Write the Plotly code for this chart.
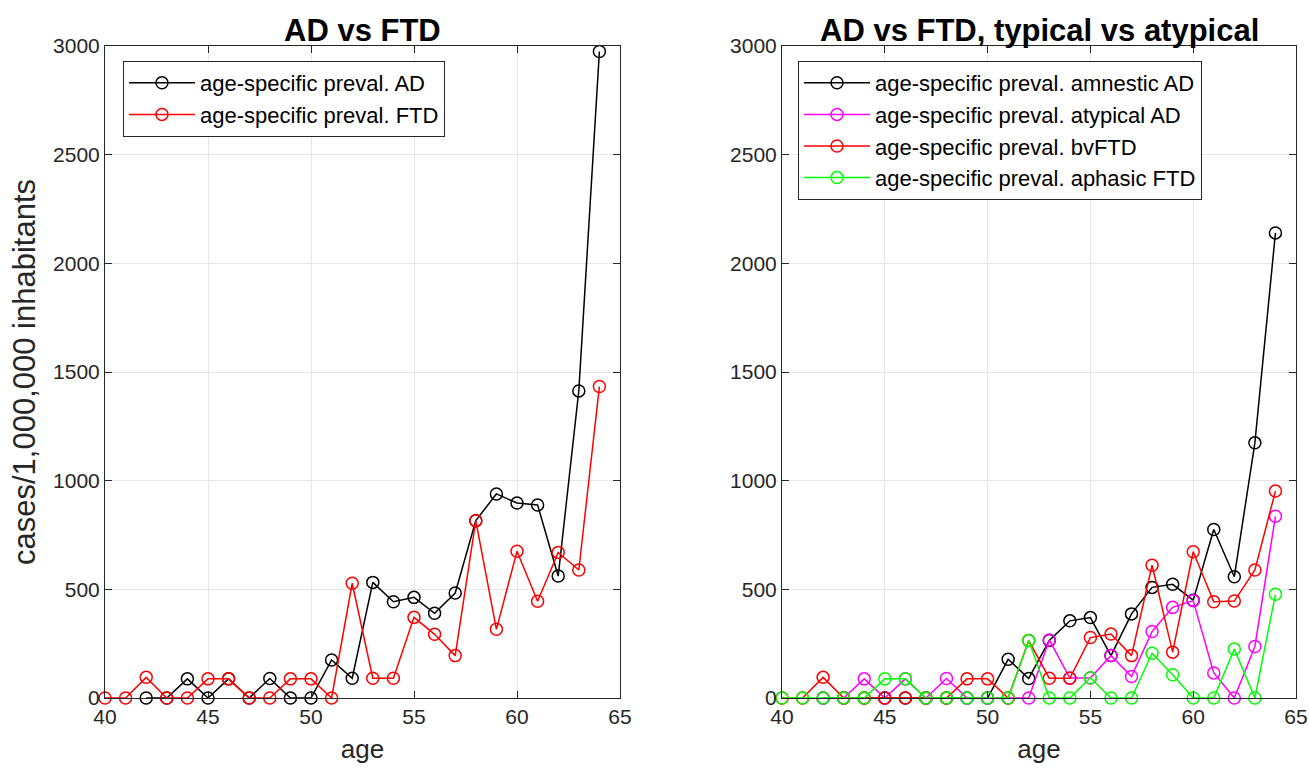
import plotly.graph_objects as go

# ---------------- data ----------------
ages_ad = list(range(42, 65))
ages_all = list(range(40, 65))

ad_preval = [0, 0, 88, 0, 88, 0, 90, 0, 0, 175, 91, 532, 443, 463, 390, 483,
             816, 939, 897, 888, 561, 1413, 2975]
ftd_preval = [0, 0, 95, 0, 0, 88, 88, 0, 0, 88, 88, 0, 528, 91, 91, 371, 293,
              195, 816, 316, 675, 445, 670, 589, 1433]

amnestic_ad = [0, 0, 0, 0, 0, 0, 0, 0, 0, 178, 90, 265, 355, 370, 195, 387,
               509, 523, 450, 775, 558, 1174, 2140]
atypical_ad = [0, 0, 88, 0, 88, 0, 90, 0, 0, 0, 0, 267, 92, 92, 195, 99,
               306, 417, 448, 115, 0, 237, 836]
bv_ftd = [0, 0, 95, 0, 0, 0, 0, 0, 0, 88, 88, 0, 264, 91, 91, 278, 294, 195,
          611, 211, 673, 443, 446, 589, 952]
aphasic_ftd = [0, 0, 0, 0, 0, 88, 88, 0, 0, 0, 0, 0, 264, 0, 0, 93, 0, 0,
               206, 107, 0, 0, 225, 0, 477]

left_title = "AD vs FTD"
right_title = "AD vs FTD, typical vs atypical"
x_ticks = [40, 45, 50, 55, 60, 65]
y_ticks = [0, 500, 1000, 1500, 2000, 2500, 3000]

FONT = "Liberation Sans, Arial, sans-serif"
W, H = 1309, 768

fig = go.Figure()


def add(x, y, name, color, xa, ya, legend):
    fig.add_trace(go.Scatter(
        x=x, y=y, name=name, mode="lines+markers",
        line=dict(color=color, width=1.5),
        marker=dict(symbol="circle-open", size=12, color=color,
                    line=dict(color=color, width=1.5)),
        xaxis=xa, yaxis=ya, legend=legend, cliponaxis=False))


add(ages_ad, ad_preval, "age-specific preval. AD", "#000000", "x", "y", "legend")
add(ages_all, ftd_preval, "age-specific preval. FTD", "#ff0000", "x", "y", "legend")

add(ages_ad, amnestic_ad, "age-specific preval. amnestic AD", "#000000", "x2", "y2", "legend2")
add(ages_ad, atypical_ad, "age-specific preval. atypical AD", "#ff00ff", "x2", "y2", "legend2")
add(ages_all, bv_ftd, "age-specific preval. bvFTD", "#ff0000", "x2", "y2", "legend2")
add(ages_all, aphasic_ftd, "age-specific preval. aphasic FTD", "#00ff00", "x2", "y2", "legend2")

# axis geometry in pixels
L1, R1 = 105, 620
L2, R2 = 782, 1296
TOP, BOT = 46, 698

ydom = [1 - BOT / H, 1 - TOP / H]

axis_common = dict(
    showline=True, linecolor="#262626", linewidth=1, mirror="ticks",
    ticks="inside", ticklen=7, tickcolor="#262626", tickwidth=1,
    showgrid=True, gridcolor="#e6e6e6", gridwidth=1, zeroline=False,
    automargin=False,
    tickfont=dict(family=FONT, size=21, color="#262626"),
)

legend_common = dict(
    xref="paper", yref="paper", xanchor="left", yanchor="top",
    bgcolor="white", bordercolor="#262626", borderwidth=1,
    font=dict(family=FONT, size=22, color="#000000"),
    itemwidth=66, tracegroupgap=0,
)

fig.update_layout(
    template="none",
    width=W, height=H,
    margin=dict(l=0, r=0, t=0, b=0),
    paper_bgcolor="white", plot_bgcolor="white",
    font=dict(family=FONT, color="#262626"),
    xaxis=dict(domain=[L1 / W, R1 / W], range=[40, 65], tickvals=x_ticks,
               title=dict(text="age", font=dict(size=26, color="#262626"), standoff=12),
               anchor="y", **axis_common),
    yaxis=dict(domain=ydom, range=[0, 3000], tickvals=y_ticks,
               title=dict(text="cases/1,000,000 inhabitants",
                          font=dict(size=31, color="#262626"), standoff=8),
               anchor="x", **axis_common),
    xaxis2=dict(domain=[L2 / W, R2 / W], range=[40, 65], tickvals=x_ticks,
                title=dict(text="age", font=dict(size=26, color="#262626"), standoff=12),
                anchor="y2", **axis_common),
    yaxis2=dict(domain=ydom, range=[0, 3000], tickvals=y_ticks,
                anchor="x2", **axis_common),
    legend=dict(x=123 / W, y=1 - 61 / H, **legend_common),
    legend2=dict(x=798 / W, y=1 - 61 / H, **legend_common),
    showlegend=True,
)

for title, cx in [(left_title, (L1 + R1) / 2), (right_title, (L2 + R2) / 2)]:
    fig.add_annotation(text="<b>%s</b>" % title, x=cx / W, y=1 - 30 / H,
                       xref="paper", yref="paper", xanchor="center",
                       yanchor="middle", showarrow=False,
                       font=dict(family=FONT, size=31, color="#000000"))

fig.write_html("out.html")
